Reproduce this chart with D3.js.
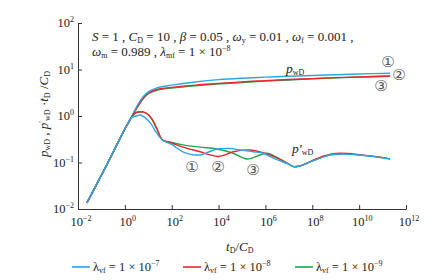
<!DOCTYPE html>
<html><head><meta charset="utf-8">
<script src="https://cdn.jsdelivr.net/npm/d3@7"></script>
<style>
body{margin:0;background:#fff;}
svg text{font-family:"Liberation Serif","Times New Roman",serif;fill:#222;}
</style></head>
<body>
<svg id="chart" width="430" height="280"></svg>
<script>
// ---------- data ----------
const xTicks = [1e-2, 1e0, 1e2, 1e4, 1e6, 1e8, 1e10, 1e12];
const xTickExp = ["-2","0","2","4","6","8","10","12"];
const yTicks = [1e-2, 1e-1, 1e0, 1e1, 1e2];
const yTickExp = ["-2","-1","0","1","2"];

const seriesNames = ["1 × 10", "1 × 10", "1 × 10"];
const seriesExp = ["-7", "-8", "-9"];
const seriesColors = ["#2aa9e0", "#e8262c", "#1fa64f"];

// pressure pwD
const pT = [0.024, 0.1, 0.316, 1, 2, 3.16, 5.62, 10, 25.1, 100, 1e3, 1e4, 1e5, 1e6, 1e7, 1e8, 1e9, 1e10, 2.09e11];
const pBlue  = [0.0135, 0.0537, 0.166, 0.525, 1.0, 1.58, 2.48, 3.3, 4.07, 4.6, 5.4, 6.05, 6.5, 6.85, 7.15, 7.45, 7.7, 8.0, 8.3];
const pRed   = [0.0135, 0.0537, 0.166, 0.525, 0.977, 1.48, 2.29, 3.09, 3.76, 4.12, 4.62, 5.01, 5.43, 5.75, 6.1, 6.38, 6.68, 6.92, 7.24];
const pGreen = [0.0135, 0.0537, 0.166, 0.525, 0.977, 1.45, 2.24, 3.02, 3.63, 3.98, 4.47, 4.9, 5.25, 5.62, 5.96, 6.31, 6.61, 6.84, 7.16];

// derivative p'wD * tD/CD
const dBlueT = [0.024, 0.1, 0.316, 1, 2, 3.16, 4.47, 7.08, 12.6, 22.4, 39.8, 100, 302, 1620, 3980, 8510, 3.16e4, 8.13e4, 3.16e5, 7.94e5, 2.09e6, 5.01e6, 1.12e7, 1.58e7, 2.95e7, 1e8, 3.16e8, 5.75e8, 1.58e9, 1e10, 6.31e10, 2.09e11];
const dBlue  = [0.0135, 0.0537, 0.166, 0.525, 0.933, 1.0, 1.05, 0.933, 0.692, 0.437, 0.302, 0.245, 0.170, 0.145, 0.170, 0.195, 0.200, 0.186, 0.170, 0.158, 0.126, 0.105, 0.0891, 0.0813, 0.0841, 0.107, 0.132, 0.145, 0.151, 0.145, 0.130, 0.119];
const dRedT  = [0.024, 0.1, 0.316, 1, 2, 2.69, 3.98, 5.89, 8.91, 14.1, 23.4, 39.8, 100, 302, 1620, 3980, 9550, 2.0e4, 4.17e4, 2.19e5, 7.94e5, 3.09e6, 1.12e7, 1.58e7, 2.95e7, 1e8, 3.16e8, 7.94e8, 1.58e9, 1e10, 6.31e10, 2.09e11];
const dRed   = [0.0135, 0.0537, 0.166, 0.525, 0.955, 1.15, 1.22, 1.23, 1.12, 0.871, 0.525, 0.309, 0.263, 0.214, 0.170, 0.148, 0.135, 0.148, 0.170, 0.186, 0.162, 0.126, 0.0891, 0.0813, 0.0841, 0.110, 0.138, 0.155, 0.158, 0.148, 0.132, 0.120];
const dGreenT = [0.024, 0.1, 0.316, 1, 2, 2.69, 3.98, 5.89, 8.91, 14.1, 23.4, 39.8, 100, 302, 1620, 8510, 4.17e4, 1.62e5, 5.89e5, 1.17e6, 3.09e6, 1.12e7, 1.58e7, 2.95e7, 1e8, 3.16e8, 7.94e8, 1.58e9, 1e10, 6.31e10, 2.09e11];
const dGreen  = [0.0135, 0.0537, 0.166, 0.525, 0.955, 1.15, 1.22, 1.23, 1.12, 0.871, 0.525, 0.309, 0.269, 0.240, 0.214, 0.195, 0.158, 0.119, 0.145, 0.158, 0.129, 0.0891, 0.0813, 0.0841, 0.108, 0.135, 0.151, 0.155, 0.146, 0.132, 0.120];

// ---------- drawing ----------
const svg = d3.select("#chart");
const x = d3.scaleLog().domain([1e-2, 1e12]).range([78, 406]);
const y = d3.scaleLog().domain([1e-2, 1e2]).range([209, 23]);

// axes
const xAxis = d3.axisBottom(x).tickValues(xTicks).tickSizeInner(-4).tickSizeOuter(0).tickFormat("");
const yAxis = d3.axisLeft(y).tickValues(yTicks).tickSizeInner(-4).tickSizeOuter(0).tickFormat("");
const gx = svg.append("g").attr("transform", "translate(0,209)").call(xAxis);
const gy = svg.append("g").attr("transform", "translate(78,0)").call(yAxis);
[gx, gy].forEach(g => { g.selectAll("path,line").attr("stroke", "#333").attr("stroke-width", 1); });

// tick labels
function pow10(sel, exp){
  sel.append("tspan").text("10");
  sel.append("tspan").attr("font-size", 8).attr("dy", -5).text(exp.replace("-", "\u2212"));
}
xTicks.forEach((t, i) => {
  const tx = svg.append("text").attr("x", x(t) + 3).attr("y", 226).attr("text-anchor", "middle").attr("font-size", 12.5);
  pow10(tx, xTickExp[i]);
});
yTicks.forEach((t, i) => {
  const ty = svg.append("text").attr("x", 74).attr("y", y(t) + 4).attr("text-anchor", "end").attr("font-size", 12.5);
  pow10(ty, yTickExp[i]);
});

// lines
const line = d3.line().x(d => x(d[0])).y(d => y(d[1])).curve(d3.curveCatmullRom.alpha(0.5));
const zip = (a, b) => a.map((v, i) => [v, b[i]]);
const curves = [
  [zip(pT, pGreen), seriesColors[2]],
  [zip(pT, pRed), seriesColors[1]],
  [zip(pT, pBlue), seriesColors[0]],
  [zip(dGreenT, dGreen), seriesColors[2]],
  [zip(dRedT, dRed), seriesColors[1]],
  [zip(dBlueT, dBlue), seriesColors[0]]
];
curves.forEach(([pts, c]) => {
  svg.append("path").attr("d", line(pts)).attr("fill", "none").attr("stroke", c).attr("stroke-width", 1.4);
});

// annotation
const a1 = svg.append("text").attr("x", 92).attr("y", 41).attr("font-size", 13);
a1.append("tspan").attr("font-style", "italic").text("S");
a1.append("tspan").text(" = 1 , ");
a1.append("tspan").attr("font-style", "italic").text("C");
a1.append("tspan").attr("font-size", 8).attr("dy", 2).text("D");
a1.append("tspan").attr("dy", -2).text(" = 10 , ");
a1.append("tspan").attr("font-style", "italic").text("β");
a1.append("tspan").text(" = 0.05 , ");
a1.append("tspan").attr("font-style", "italic").text("ω");
a1.append("tspan").attr("font-size", 8).attr("dy", 2).text("y");
a1.append("tspan").attr("dy", -2).text(" = 0.01 , ");
a1.append("tspan").attr("font-style", "italic").text("ω");
a1.append("tspan").attr("font-size", 8).attr("dy", 2).text("f");
a1.append("tspan").attr("dy", -2).text(" = 0.001 ,");

const a2 = svg.append("text").attr("x", 92).attr("y", 56).attr("font-size", 13);
a2.append("tspan").attr("font-style", "italic").text("ω");
a2.append("tspan").attr("font-size", 8).attr("dy", 2).text("m");
a2.append("tspan").attr("dy", -2).text(" = 0.989 , ");
a2.append("tspan").attr("font-style", "italic").text("λ");
a2.append("tspan").attr("font-size", 8).attr("dy", 2).text("mf");
a2.append("tspan").attr("dy", -2).text(" = 1 × 10");
a2.append("tspan").attr("font-size", 8).attr("dy", -5).text("\u22128");

// curve labels
const lp = svg.append("text").attr("x", 286).attr("y", 73).attr("font-size", 13.5);
lp.append("tspan").attr("font-style", "italic").text("p");
lp.append("tspan").attr("font-size", 8).attr("dy", 2).text("wD");
const ld = svg.append("text").attr("x", 292).attr("y", 153).attr("font-size", 13.5);
ld.append("tspan").attr("font-style", "italic").text("p′");
ld.append("tspan").attr("font-size", 8).attr("dy", 2).text("wD");

const circ = [["①", 388, 67], ["②", 399, 80], ["③", 381, 91], ["①", 192, 172], ["②", 218, 172], ["③", 253, 175]];
circ.forEach(([t, cx, cy]) => {
  svg.append("text").attr("x", cx).attr("y", cy).attr("text-anchor", "middle")
    .attr("font-size", 15).style("font-family", "'DejaVu Sans','Noto Sans CJK SC',sans-serif").style("fill", "#555").text(t);
});

// axis titles
const xt = svg.append("text").attr("x", 226).attr("y", 251).attr("font-size", 13);
xt.append("tspan").attr("font-style", "italic").text("t");
xt.append("tspan").attr("font-size", 8).attr("dy", 2).text("D");
xt.append("tspan").attr("dy", -2).text("/");
xt.append("tspan").attr("font-style", "italic").text("C");
xt.append("tspan").attr("font-size", 8).attr("dy", 2).text("D");

const yt = svg.append("text").attr("transform", "translate(48,114) rotate(-90)").attr("text-anchor", "middle").attr("font-size", 13);
yt.append("tspan").attr("font-style", "italic").text("p");
yt.append("tspan").attr("font-size", 8).attr("dy", 2).text("wD");
yt.append("tspan").attr("dy", -2).text(" , ");
yt.append("tspan").attr("font-style", "italic").text("p");
yt.append("tspan").attr("font-size", 8).attr("dy", -3).text("′");
yt.append("tspan").attr("font-size", 8).attr("dy", 5).text("wD");
yt.append("tspan").attr("dy", -2).text(" ·");
yt.append("tspan").attr("font-style", "italic").text("t");
yt.append("tspan").attr("font-size", 8).attr("dy", 2).text("D");
yt.append("tspan").attr("dy", -2).text(" /");
yt.append("tspan").attr("font-style", "italic").text("C");
yt.append("tspan").attr("font-size", 8).attr("dy", 2).text("D");

// legend
const legX = [72, 183, 295];
seriesColors.forEach((c, i) => {
  svg.append("line").attr("x1", legX[i]).attr("x2", legX[i] + 18).attr("y1", 267).attr("y2", 267).attr("stroke", c).attr("stroke-width", 1.6);
  const t = svg.append("text").attr("x", legX[i] + 21).attr("y", 271).attr("font-size", 12.5);
  t.append("tspan").text("λ");
  t.append("tspan").attr("font-size", 8).attr("dy", 2).text("vf");
  t.append("tspan").attr("dy", -2).text(" = " + seriesNames[i]);
  t.append("tspan").attr("font-size", 8).attr("dy", -5).text(seriesExp[i].replace("-", "\u2212"));
});
</script>
</body></html>
